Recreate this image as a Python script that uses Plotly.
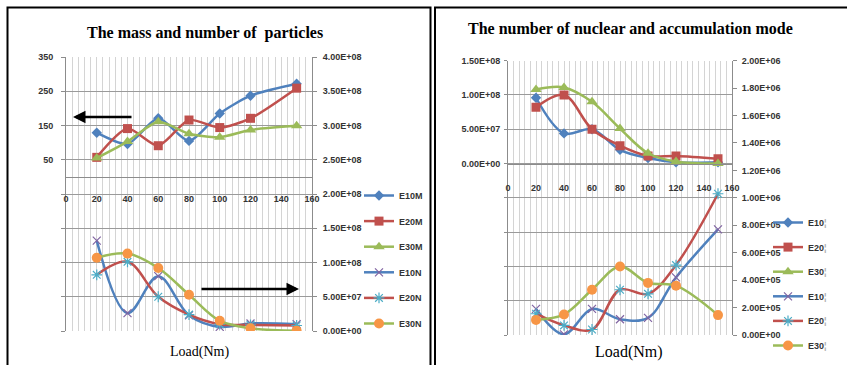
import plotly.graph_objects as go

W, H = 847, 365

# ---------------- data ----------------
loads = [20, 40, 60, 80, 100, 120, 150]

# left panel: mass (left axis) and number (right axis)
e10m = [129, 96, 171, 105, 185, 237, 272]
e20m = [57, 141, 91, 166, 144, 171, 259]
e30m = [55, 103, 161, 126, 116, 137, 149]
e10n = [1.32e8, 0.26e8, 0.80e8, 0.23e8, 0.06e8, 0.11e8, 0.10e8]
e20n = [0.82e8, 1.01e8, 0.50e8, 0.24e8, 0.10e8, 0.09e8, 0.08e8]
e30n = [1.07e8, 1.13e8, 0.92e8, 0.53e8, 0.15e8, 0.04e8, 0.005e8]

# right panel: nuclear mode (left axis) and accumulation mode (right axis)
e10_nuc = [0.96e8, 0.44e8, 0.50e8, 0.20e8, 0.08e8, 0.02e8, 0.02e8]
e20_nuc = [0.82e8, 1.00e8, 0.50e8, 0.26e8, 0.11e8, 0.11e8, 0.07e8]
e30_nuc = [1.08e8, 1.11e8, 0.90e8, 0.51e8, 0.15e8, 0.03e8, 0.0]
e10_acc = [1.9e5, 0.05e5, 1.9e5, 1.15e5, 1.25e5, 4.2e5, 7.7e5]
e20_acc = [1.55e5, 0.7e5, 0.4e5, 3.3e5, 3.0e5, 5.1e5, 10.3e5]
e30_acc = [1.1e5, 1.5e5, 3.3e5, 5.0e5, 3.8e5, 3.6e5, 1.45e5]

left_names = ["E10M", "E20M", "E30M", "E10N", "E20N", "E30N"]
CLIP = "<span style='color:#b0b0b0'>¦</span>"   # clipped glyph seen at the legend edge
right_names = ["E10" + CLIP, "E20" + CLIP, "E30" + CLIP,
               "E10" + CLIP, "E20" + CLIP, "E30" + CLIP]

x_ticks = [0, 20, 40, 60, 80, 100, 120, 140, 160]
mass_ticks = [-450, -350, -250, -150, -50, 50, 150, 250, 350]
num_ticks = [i * 5e7 for i in range(9)]
nuc_ticks = [i * 5e7 for i in range(-5, 4)]
acc_ticks = [i * 2e5 for i in range(11)]

# ---------------- styles ----------------
BLUE, RED, GREEN = "#4F81BD", "#C0504D", "#9BBB59"
PURPLE, CYAN, ORANGE = "#8064A2", "#4BACC6", "#F79646"
TICKFONT = dict(family="Liberation Sans", size=9, color="#333333", weight="bold")
GRIDH = "#9a9a9a"
GRIDV = "#d4d4d4"


def fmt(v):
    return f"{v:.2E}"


fig = go.Figure()

def add(x, y, name, xa, ya, color, msym, msize, mcolor, mline=None, legend="legend", smooth=1.0):
    marker = dict(symbol=msym, size=msize, color=mcolor)
    if mline is not None:
        marker["line"] = dict(color=mline, width=1.2)
    fig.add_trace(go.Scatter(
        x=x, y=y, name=name, xaxis=xa, yaxis=ya, mode="lines+markers",
        line=dict(color=color, width=2.5, shape="spline", smoothing=smooth),
        marker=marker, legend=legend, legendgroup=str(len(fig.data)) + legend,
    ))

# left panel
add(loads, e10m, left_names[0], "x", "y", BLUE, "diamond", 8, BLUE, smooth=0.7)
add(loads, e20m, left_names[1], "x", "y", RED, "square", 9, RED, smooth=0.7)
add(loads, e30m, left_names[2], "x", "y", GREEN, "triangle-up", 10, GREEN, smooth=0.7)
add(loads, e10n, left_names[3], "x", "y2", BLUE, "x-thin-open", 8, PURPLE, PURPLE)
add(loads, e20n, left_names[4], "x", "y2", RED, "asterisk-open", 9, CYAN, CYAN)
add(loads, e30n, left_names[5], "x", "y2", GREEN, "circle", 10, ORANGE)

# right panel
add(loads, e10_nuc, right_names[0], "x2", "y3", BLUE, "diamond", 8, BLUE, legend="legend2")
add(loads, e20_nuc, right_names[1], "x2", "y3", RED, "square", 9, RED, legend="legend2")
add(loads, e30_nuc, right_names[2], "x2", "y3", GREEN, "triangle-up", 10, GREEN, legend="legend2")
add(loads, e10_acc, right_names[3], "x2", "y4", BLUE, "x-thin-open", 8, PURPLE, PURPLE, legend="legend2")
add(loads, e20_acc, right_names[4], "x2", "y4", RED, "asterisk-open", 9, CYAN, CYAN, legend="legend2")
add(loads, e30_acc, right_names[5], "x2", "y4", GREEN, "circle", 10, ORANGE, legend="legend2")

# ---------------- layout geometry ----------------
def px_x(p):
    return p / W

def px_y(p):
    return 1 - p / H

L_dom_x = [px_x(66), px_x(312)]
L_dom_y = [px_y(331), px_y(57)]
R_dom_x = [px_x(508), px_x(732)]
R_dom_y = [px_y(335), px_y(60.7)]

L_x_pos = L_dom_y[0] + (0 + 450) / 800 * (L_dom_y[1] - L_dom_y[0])
R_x_pos = R_dom_y[0] + (0 + 2.5e8) / 4e8 * (R_dom_y[1] - R_dom_y[0])

xcommon = dict(
    range=[0, 160], tickvals=x_ticks, showgrid=True, gridcolor=GRIDV, gridwidth=1,
    minor=dict(dtick=4, tick0=0, showgrid=True, gridcolor=GRIDV, gridwidth=1),
    showline=True, linecolor="#8c8c8c", linewidth=1, ticks="", zeroline=False,
    tickfont=TICKFONT, anchor="free",
)

LEGFONT = dict(family="Liberation Sans", size=9, color="#333333", weight="bold")

fig.update_layout(
    width=W, height=H, margin=dict(l=0, r=0, t=0, b=0, autoexpand=False),
    paper_bgcolor="white", plot_bgcolor="white", showlegend=True,
    xaxis=dict(domain=L_dom_x, position=L_x_pos, ticklabelstandoff=13, **xcommon),
    yaxis=dict(domain=L_dom_y, range=[-450, 350], tickvals=mass_ticks,
               ticktext=[str(v) if v > 0 else "" for v in mass_ticks],
               showgrid=True, gridcolor=GRIDH, zeroline=False, showline=True,
               linecolor="#8c8c8c", ticks="outside", ticklen=4, tickcolor="#8c8c8c",
               ticklabelstandoff=6, tickfont=TICKFONT, anchor="x"),
    yaxis2=dict(domain=L_dom_y, range=[0, 4e8], overlaying="y", side="right",
                tickvals=num_ticks, ticktext=[fmt(v) for v in num_ticks],
                showgrid=False, zeroline=False, showline=True, linecolor="#8c8c8c",
                ticks="outside", ticklen=4, tickcolor="#8c8c8c", ticklabelstandoff=4,
                tickfont=TICKFONT, anchor="x"),
    xaxis2=dict(domain=R_dom_x, position=R_x_pos, ticklabelstandoff=16, **xcommon),
    yaxis3=dict(domain=R_dom_y, range=[-2.5e8, 1.5e8], tickvals=nuc_ticks,
                ticktext=[fmt(v) if v >= 0 else "" for v in nuc_ticks],
                showgrid=True, gridcolor=GRIDH, zeroline=False, showline=True,
                linecolor="#8c8c8c", ticks="outside", ticklen=3, tickcolor="#8c8c8c",
                ticklabelstandoff=2, tickfont=TICKFONT, anchor="x2"),
    yaxis4=dict(domain=R_dom_y, range=[0, 2e6], overlaying="y3", side="right",
                tickvals=acc_ticks, ticktext=[fmt(v) for v in acc_ticks],
                showgrid=False, zeroline=False, showline=True, linecolor="#8c8c8c",
                ticks="outside", ticklen=4, tickcolor="#8c8c8c", ticklabelstandoff=3,
                tickfont=TICKFONT, anchor="x2"),
    legend=dict(x=px_x(359), y=px_y(181), xanchor="left", yanchor="top",
                font=LEGFONT, bgcolor="rgba(0,0,0,0)", tracegroupgap=6.6, itemwidth=30),
    legend2=dict(x=px_x(768), y=px_y(208), xanchor="left", yanchor="top",
                 font=LEGFONT, bgcolor="rgba(0,0,0,0)", tracegroupgap=5.6, itemwidth=30),
)

# panel frames
fig.add_shape(type="rect", xref="paper", yref="paper", x0=px_x(7.5), x1=px_x(430.5),
              y0=-0.2, y1=px_y(7.5), line=dict(color="black", width=2), layer="above")
fig.add_shape(type="rect", xref="paper", yref="paper", x0=px_x(435), x1=1.2,
              y0=-0.2, y1=px_y(7.5), line=dict(color="black", width=2), layer="above")

# titles and labels
SERIF = "Liberation Serif"
def label(x, y, text, size):
    fig.add_annotation(x=px_x(x), y=px_y(y), xref="paper", yref="paper", showarrow=False,
                       xanchor="center", yanchor="middle", text=text,
                       font=dict(family=SERIF, size=size, color="black"))

label(205, 33, "<b>The mass and number of  particles</b>", 16)
label(630, 28, "<b>The number of nuclear and accumulation mode</b>", 16)
label(199, 352, "Load(Nm)", 14)
label(629, 352, "Load(Nm)", 16)

# arrows
fig.add_annotation(x=px_x(73), y=px_y(117), xref="paper", yref="paper", ax=60, ay=0,
                   axref="pixel", ayref="pixel", showarrow=True, text="",
                   arrowhead=2, arrowsize=1, arrowwidth=2.5, arrowcolor="black")
fig.add_annotation(x=px_x(299), y=px_y(289), xref="paper", yref="paper", ax=-99, ay=0,
                   axref="pixel", ayref="pixel", showarrow=True, text="",
                   arrowhead=2, arrowsize=1, arrowwidth=2.5, arrowcolor="black")

fig.write_html("out.html")
